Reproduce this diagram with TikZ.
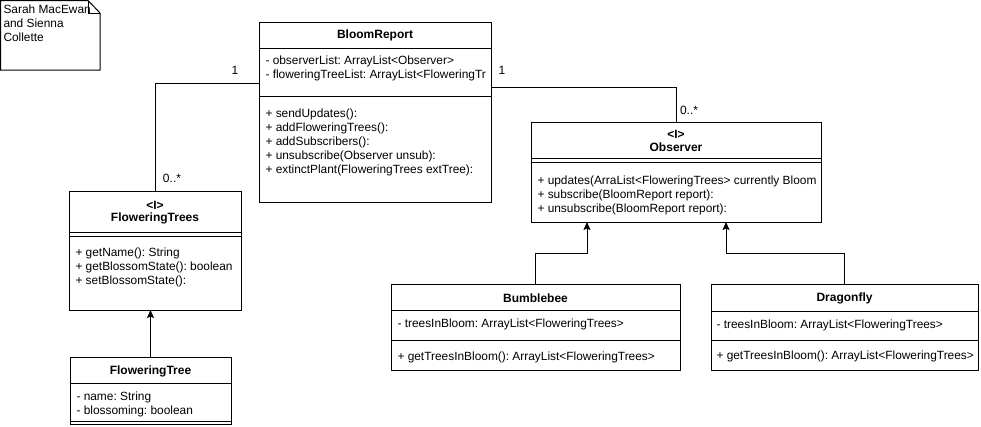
\documentclass[tikz,border=0pt]{standalone}
\usepackage{fontspec}
\setmainfont{Liberation Sans}
\usetikzlibrary{arrows.meta}
\frenchspacing
\begin{document}
\begin{tikzpicture}[x=1pt,y=-1pt,line width=1pt,
  cls/.style={draw,rectangle,anchor=north west,inner sep=0pt,outer sep=0pt},
  txt/.style={anchor=west,inner sep=0pt,font=\fontsize{11.9}{14}\selectfont\frenchspacing},
  ttl/.style={inner sep=0pt,font=\fontsize{12}{14}\selectfont\bfseries},
  lbl/.style={inner sep=0pt,font=\fontsize{12}{14}\selectfont},
  gen/.style={-{Stealth[length=8pt,width=7pt,inset=1.5pt]}}]
\useasboundingbox (0,0) rectangle (981,426);

% note
\draw (0.5,0.5) -- (88,0.5) -- (100,13) -- (100,70) -- (0.5,70) -- cycle;
\draw (88,0.5) -- (88,13) -- (100,13);
\node[txt] (n1) at (3,9.5) {Sarah MacEwan};
\node[txt] (n2) at (3,23.5) {and Sienna};
\node[txt] (n3) at (3,37.5) {Collette};

% BloomReport
\node[cls,minimum width=232pt,minimum height=180pt] (br) at (259,22) {};
\draw (br.west |- 0,48) -- (br.east |- 0,48);
\draw (br.west |- 0,96) -- (br.east |- 0,96);
\node[ttl] (brt) at (375,35) {BloomReport};
\node[txt] (bra1) at (265,61.5) {- observerList: ArrayList<Observer>};
\node[txt] (bra2) at (265,75.5) {- floweringTreeList: ArrayList<FloweringTr};
\node[txt] (brm1) at (265,114) {+ sendUpdates():};
\node[txt] (brm2) at (265,128) {+ addFloweringTrees():};
\node[txt] (brm3) at (265,142) {+ addSubscribers():};
\node[txt] (brm4) at (265,156) {+ unsubscribe(Observer unsub):};
\node[txt] (brm5) at (265,170) {+ extinctPlant(FloweringTrees extTree):};

% FloweringTrees
\node[cls,minimum width=172pt,minimum height=119pt] (ft) at (69,191) {};
\draw (ft.west |- 0,232) -- (ft.east |- 0,232);
\draw (ft.west |- 0,236) -- (ft.east |- 0,236);
\node[ttl] (fts) at (155,205) {<I>};
\node[ttl] (ftt) at (155,218.5) {FloweringTrees};
\node[txt] (ftm1) at (75,253) {+ getName(): String};
\node[txt] (ftm2) at (75,267) {+ getBlossomState(): boolean};
\node[txt] (ftm3) at (75,281) {+ setBlossomState():};

% FloweringTree
\node[cls,minimum width=161pt,minimum height=67pt] (ftr) at (70,357) {};
\draw (ftr.west |- 0,383) -- (ftr.east |- 0,383);
\draw (ftr.west |- 0,421) -- (ftr.east |- 0,421);
\node[ttl] (ftrt) at (150.5,371.5) {FloweringTree};
\node[txt] (ftra1) at (76,397) {- name: String};
\node[txt] (ftra2) at (76,411) {- blossoming: boolean};

% Observer
\node[cls,minimum width=290pt,minimum height=100pt] (ob) at (531,122) {};
\draw (ob.west |- 0,158) -- (ob.east |- 0,158);
\draw (ob.west |- 0,162) -- (ob.east |- 0,162);
\node[ttl] (obs) at (676,134) {<I>};
\node[ttl] (obt) at (676,147.5) {Observer};
\node[txt] (obm1) at (537,181) {+ updates(ArraList<FloweringTrees> currently Bloom};
\node[txt] (obm2) at (537,195) {+ subscribe(BloomReport report):};
\node[txt] (obm3) at (537,209) {+ unsubscribe(BloomReport report):};

% Bumblebee
\node[cls,minimum width=289pt,minimum height=86pt] (bb) at (391,284) {};
\draw (bb.west |- 0,310) -- (bb.east |- 0,310);
\draw (bb.west |- 0,340) -- (bb.east |- 0,340);
\node[ttl] (bbt) at (535.5,298.5) {Bumblebee};
\node[txt] (bba1) at (397,324.5) {- treesInBloom: ArrayList<FloweringTrees>};
\node[txt] (bbm1) at (397,357.5) {+ getTreesInBloom(): ArrayList<FloweringTrees>};

% Dragonfly
\node[cls,minimum width=267pt,minimum height=86pt] (df) at (711,284) {};
\draw (df.west |- 0,311) -- (df.east |- 0,311);
\draw (df.west |- 0,340) -- (df.east |- 0,340);
\node[ttl] (dft) at (844.5,298.5) {Dragonfly};
\node[txt] (dfa1) at (716,325) {- treesInBloom: ArrayList<FloweringTrees>};
\node[txt] (dfm1) at (716,356) {+ getTreesInBloom(): ArrayList<FloweringTrees>};

% connectors
\draw (br.west |- 0,83) -| (ft.north);
\draw (br.east |- 0,87) -| (ob.north);
\node[lbl] (l1) at (235,70) {1};
\node[lbl] (l2) at (172,178) {0..*};
\node[lbl] (l3) at (502,70) {1};
\node[lbl] (l4) at (689,110) {0..*};

\coordinate (bbk) at (587,253);
\coordinate (dfk) at (726,253);
\draw[gen] (bb.north) |- (bbk) -- (bbk |- ob.south);
\draw[gen] (df.north) |- (dfk) -- (dfk |- ob.south);
\draw[gen] (ftr.north) -- (ftr.north |- ft.south);
\end{tikzpicture}
\end{document}
